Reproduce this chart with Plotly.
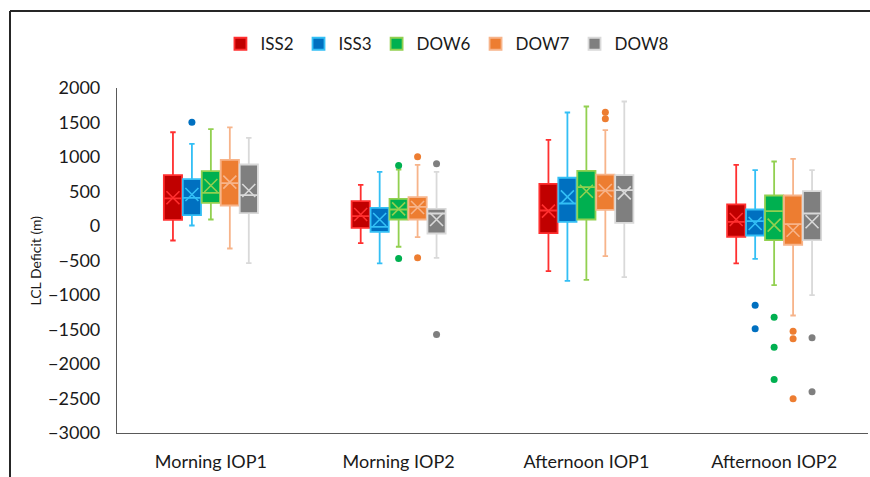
import plotly.graph_objects as go

categories = ["Morning IOP1", "Morning IOP2", "Afternoon IOP1", "Afternoon IOP2"]
series = ["ISS2", "ISS3", "DOW6", "DOW7", "DOW8"]

# box statistics per series (one value per category)
lower = {
    "ISS2": [-210, -249, -655, -543],
    "ISS3": [7, -543, -794, -475],
    "DOW6": [94, -301, -780, -857],
    "DOW7": [-326, -162, -437, -1297],
    "DOW8": [-539, -461, -742, -1003],
}
q1 = {
    "ISS2": [90, -26, -104, -156],
    "ISS3": [157, -84, 61, -138],
    "DOW6": [336, 94, 94, -205],
    "DOW7": [297, 94, 235, -272],
    "DOW8": [186, -109, 46, -205],
}
median = {
    "ISS2": [400, 142, 225, 61],
    "ISS3": [409, -12, 326, 70],
    "DOW6": [481, 239, 563, 215],
    "DOW7": [620, 278, 514, 26],
    "DOW8": [447, 181, 519, 181],
}
q3 = {
    "ISS2": [736, 360, 611, 312],
    "ISS3": [678, 264, 699, 239],
    "DOW6": [794, 394, 800, 442],
    "DOW7": [959, 418, 746, 442],
    "DOW8": [891, 249, 736, 505],
}
upper = {
    "ISS2": [1359, 597, 1249, 887],
    "ISS3": [1191, 785, 1645, 809],
    "DOW6": [1403, 819, 1732, 935],
    "DOW7": [1428, 887, 1389, 974],
    "DOW8": [1278, 785, 1804, 809],
}
mean = {
    "ISS2": [409, 167, 215, 94],
    "ISS3": [456, 94, 423, 36],
    "DOW6": [587, 249, 504, 12],
    "DOW7": [635, 268, 514, -61],
    "DOW8": [514, 94, 481, 61],
}
outlier_cat = {
    "ISS2": [],
    "ISS3": ["Morning IOP1", "Afternoon IOP2", "Afternoon IOP2"],
    "DOW6": ["Morning IOP2", "Morning IOP2", "Afternoon IOP2", "Afternoon IOP2", "Afternoon IOP2"],
    "DOW7": ["Morning IOP2", "Morning IOP2", "Afternoon IOP1", "Afternoon IOP1",
             "Afternoon IOP2", "Afternoon IOP2", "Afternoon IOP2"],
    "DOW8": ["Morning IOP2", "Morning IOP2", "Afternoon IOP2", "Afternoon IOP2"],
}
outlier_val = {
    "ISS2": [],
    "ISS3": [1504, -1148, -1490],
    "DOW6": [877, -471, -1321, -1756, -2225],
    "DOW7": [1003, -461, 1650, 1553, -1524, -1635, -2504],
    "DOW8": [901, -1572, -1620, -2403],
}

fill_colors = {"ISS2": "#C00000", "ISS3": "#0070C0", "DOW6": "#00B050", "DOW7": "#ED7D31", "DOW8": "#7F7F7F"}
edge_colors = {"ISS2": "#FF3030", "ISS3": "#33BFF5", "DOW6": "#92D050", "DOW7": "#F7B48A", "DOW8": "#D9D9D9"}

FONT = "Lato"
fig = go.Figure()
for s in series:
    fig.add_trace(go.Box(
        name=s, x=categories, q1=q1[s], median=median[s], q3=q3[s],
        lowerfence=lower[s], upperfence=upper[s],
        fillcolor=fill_colors[s], line=dict(color=edge_colors[s], width=1.8),
        whiskerwidth=0.3, boxpoints=False, offsetgroup=s, alignmentgroup="g",
        legendgroup=s, hoverinfo="skip",
    ))
for s in series:
    fig.add_trace(go.Scatter(
        x=categories, y=mean[s], mode="markers", offsetgroup=s, alignmentgroup="g",
        marker=dict(symbol="x-thin-open", size=13, color=edge_colors[s],
                    line=dict(color=edge_colors[s], width=1.6)),
        showlegend=False, legendgroup=s, hoverinfo="skip",
    ))
    fig.add_trace(go.Scatter(
        x=outlier_cat[s], y=outlier_val[s], mode="markers", offsetgroup=s, alignmentgroup="g",
        marker=dict(symbol="circle", size=7, color=fill_colors[s]),
        showlegend=False, legendgroup=s, hoverinfo="skip",
    ))

fig.update_layout(
    width=870, height=477,
    margin=dict(l=117, r=2, t=88, b=44),
    paper_bgcolor="white", plot_bgcolor="white",
    boxmode="group", boxgap=0.495, boxgroupgap=0.04,
    scattermode="group", scattergap=0.495,
    font=dict(family=FONT, size=18, color="#1a1a1a"),
    legend=dict(orientation="h", x=0.44, xanchor="center", y=1.127, yanchor="middle",
                font=dict(size=17, family=FONT), itemwidth=30, traceorder="normal"),
    showlegend=True,
)
fig.update_xaxes(
    type="category", categoryorder="array", categoryarray=categories,
    showline=True, linecolor="#595959", linewidth=1.2, showgrid=False,
    ticks="outside", ticklen=12, tickcolor="rgba(0,0,0,0)", tickfont=dict(size=18),
)
fig.update_yaxes(
    range=[-3000, 2000], dtick=500, showgrid=False, zeroline=False,
    showline=True, linecolor="#595959", linewidth=1.2,
    ticks="outside", ticklen=12, tickcolor="rgba(0,0,0,0)", tickfont=dict(size=18),
)
fig.add_annotation(text="LCL Deficit (m)", xref="paper", yref="paper",
                   x=(35 - 117) / 751, y=0.5, textangle=-90, showarrow=False,
                   font=dict(size=14, family=FONT), xanchor="center", yanchor="middle")
# outer frame (top and left edges)
fig.add_shape(type="line", xref="paper", yref="paper",
              x0=(10 - 117) / 751, x1=(870 - 117) / 751, y0=(433 - 11) / 345, y1=(433 - 11) / 345,
              line=dict(color="#262626", width=2))
fig.add_shape(type="line", xref="paper", yref="paper",
              x0=(10 - 117) / 751, x1=(10 - 117) / 751, y0=(433 - 11) / 345, y1=(433 - 480) / 345,
              line=dict(color="#262626", width=2))

fig.write_html("out.html")
